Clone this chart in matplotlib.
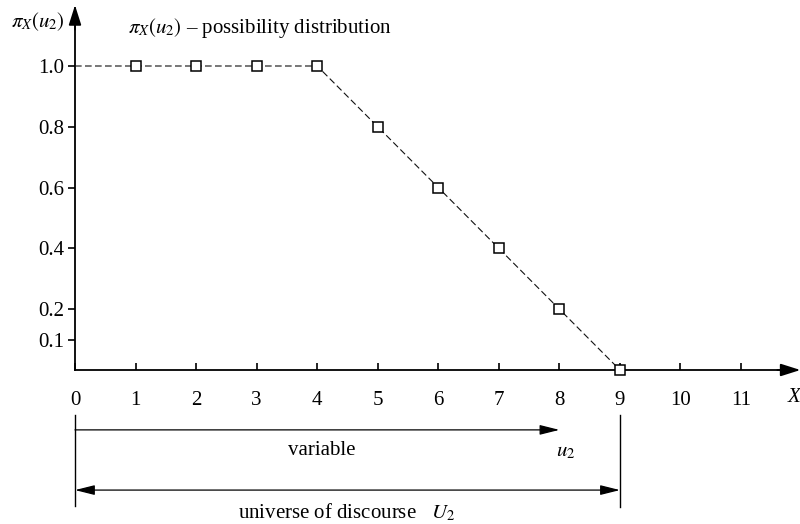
import matplotlib
matplotlib.use("Agg")
import matplotlib.pyplot as plt

plt.rcParams['font.family'] = ['Liberation Serif', 'DejaVu Serif']
plt.rcParams['mathtext.fontset'] = 'stix'

# possibility distribution pi_X(u2) over the universe U2
u = [0, 1, 2, 3, 4, 5, 6, 7, 8, 9]
pi = [1.0, 1.0, 1.0, 1.0, 1.0, 0.8, 0.6, 0.4, 0.2, 0.0]
x_ticks = [0, 1, 2, 3, 4, 5, 6, 7, 8, 9, 10, 11]
y_ticks = [0.1, 0.2, 0.4, 0.6, 0.8, 1.0]
y_tick_labels = ['0.1', '0.2', '0.4', '0.6', '0.8', '1.0']
u2_end = 8
U2_end = 9

fs = 15

fig = plt.figure(figsize=(8, 5.24), dpi=100)
ax = fig.add_axes([0, 0, 1, 1])
ax.set_xlim(-75 / 60.55, 725 / 60.55)
ax.set_ylim(-154 / 304, 370 / 304)
ax.patch.set_visible(False)

for side in ['top', 'right']:
    ax.spines[side].set_visible(False)
ax.spines['left'].set_position(('data', 0))
ax.spines['bottom'].set_position(('data', 0))
ax.spines['left'].set_bounds(0, 1.19)
ax.spines['bottom'].set_bounds(0, 11.8)
ax.spines['left'].set_linewidth(1.3)
ax.spines['bottom'].set_linewidth(1.3)

# axis arrowheads
ax.annotate('', xy=(11.98, 0), xytext=(11.6, 0),
            arrowprops=dict(arrowstyle='-|>,head_length=1.2,head_width=0.38',
                            color='black', lw=1.3, shrinkA=0, shrinkB=0))
ax.annotate('', xy=(0, 1.20), xytext=(0, 1.12),
            arrowprops=dict(arrowstyle='-|>,head_length=1.2,head_width=0.38',
                            color='black', lw=1.3, shrinkA=0, shrinkB=0))

ax.set_xticks(x_ticks)
ax.set_xticklabels([str(t) for t in x_ticks])
ax.set_yticks(y_ticks)
ax.set_yticklabels(y_tick_labels)
ax.tick_params(axis='x', direction='in', length=5, width=1.2, pad=15, labelsize=fs)
ax.tick_params(axis='y', direction='out', length=5, width=1.2, pad=3, labelsize=fs)

ax.plot(u, pi, color='#111111', lw=0.8, ls=(0, (6, 3)), marker='s', markersize=7.5,
        markerfacecolor='white', markeredgecolor='black', markeredgewidth=1.1,
        markevery=slice(1, None), clip_on=False, zorder=5)

ax.text(0.875, 1.125, r'$\pi_X(u_2)$ – possibility distribution', fontsize=fs,
        ha='left', va='center')
ax.text(-0.17, 1.145, r'$\pi_X(u_2)$', fontsize=fs, ha='right', va='center')
ax.text(11.98, -0.09, 'X', fontsize=fs, style='italic', ha='right', va='center')

# variable and universe of discourse
y_var = -0.197
y_uni = -0.395
ax.plot([0, 0], [-0.148, -0.447], color='black', lw=1.0)
ax.plot([U2_end, U2_end], [-0.148, -0.450], color='black', lw=1.0)
ax.annotate('', xy=(u2_end, y_var), xytext=(0, y_var),
            arrowprops=dict(arrowstyle='-|>,head_length=1.2,head_width=0.3',
                            color='black', lw=0.9, shrinkA=0, shrinkB=0))
ax.annotate('', xy=(U2_end, y_uni), xytext=(0, y_uni),
            arrowprops=dict(arrowstyle='<|-|>,head_length=1.2,head_width=0.3',
                            color='black', lw=0.9, shrinkA=0, shrinkB=0))
ax.text(4.08, -0.266, 'variable', fontsize=fs, ha='center', va='center')
ax.text(8.1, -0.268, r'$u_2$', fontsize=fs, ha='center', va='center')
ax.text(4.49, -0.468, r'universe of discourse   $U_2$', fontsize=fs, ha='center', va='center')

fig.savefig('out.png', dpi=100)
